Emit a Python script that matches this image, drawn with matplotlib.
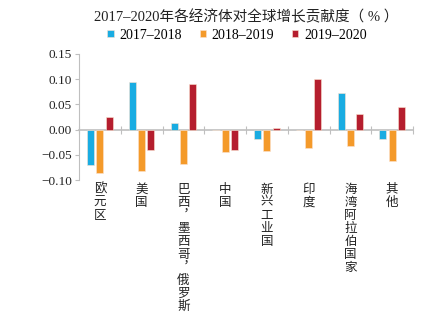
import numpy as np
import matplotlib
matplotlib.use("Agg")
import matplotlib.pyplot as plt
from matplotlib import transforms

plt.rcParams["font.family"] = ["Liberation Serif", "Noto Sans CJK SC"]
plt.rcParams["axes.unicode_minus"] = True

categories = ["欧元区", "美国", "巴西︐墨西哥︐俄罗斯", "中国", "新兴工业国", "印度", "海湾阿拉伯国家", "其他"]
series_names = ["2017–2018", "2018–2019", "2019–2020"]
v_1718 = [-0.070, 0.094, 0.013, 0.0, -0.019, 0.0, 0.073, -0.019]
v_1819 = [-0.087, -0.082, -0.069, -0.044, -0.042, -0.037, -0.032, -0.062]
v_1920 = [0.025, -0.041, 0.090, -0.040, 0.004, 0.100, 0.031, 0.044]
colors = ["#19ACE2", "#F49A2A", "#B51E2E"]
yticks = [-0.10, -0.05, 0.00, 0.05, 0.10, 0.15]

fig = plt.figure(figsize=(4.32, 3.25), dpi=100)
ax = fig.add_axes([0.183, 0.446, 0.773, 0.388])

x = np.arange(len(categories))
width = 0.17
offsets = [-0.22, 0.0, 0.22]
for vals, off, c, name in zip([v_1718, v_1819, v_1920], offsets, colors, series_names):
    ax.bar(x + off, vals, width=width, color=c, label=name, zorder=3,
           edgecolor="#FBE3D0", linewidth=0.4)

ax.set_xlim(-0.5, len(categories) - 0.5)
ax.set_ylim(-0.10, 0.15)
ax.set_yticks(yticks)
ax.set_yticklabels([f"{t:.2f}".replace("-", "−") for t in yticks], fontsize=9.5, color="#222222")

grey = "#BFBFBF"
for side in ["top", "right"]:
    ax.spines[side].set_visible(False)
ax.spines["left"].set_color(grey)
ax.spines["bottom"].set_position(("data", 0))
ax.spines["bottom"].set_color(grey)
ax.spines["bottom"].set_linewidth(1.2)
ax.tick_params(axis="y", colors=grey, labelcolor="#222222", length=3, direction="out", pad=2)
ax.set_xticks(np.arange(len(categories) + 1) - 0.5)
ax.set_xticklabels([])
ax.tick_params(axis="x", colors=grey, length=6, direction="inout")

trans = transforms.blended_transform_factory(ax.transData, ax.transAxes)
for i, cat in enumerate(categories):
    ax.text(i, -0.02, "\n".join(cat), transform=trans, ha="center", va="top",
            fontsize=9, color="#222222", linespacing=1.0,
            family=["Noto Sans CJK SC", "DejaVu Sans"])

fig.text(0.57, 0.947, "2017–2020年各经济体对全球增长贡献度（ % ）", ha="center", va="center",
         fontsize=10.5, color="#222222")
ax.legend(loc="center", bbox_to_anchor=(0.473, 1.15), ncol=3, frameon=False,
          fontsize=10, handlelength=0.45, handleheight=0.45, handletextpad=0.4,
          columnspacing=1.3, borderaxespad=0)

fig.savefig("out.png", dpi=100)
